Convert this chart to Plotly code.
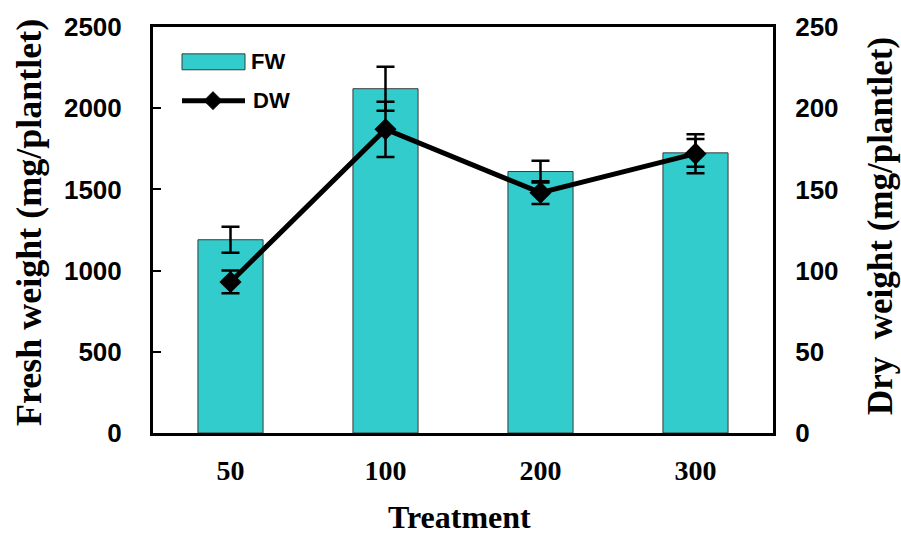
import plotly.graph_objects as go

# Treatment levels and measured weights (mg/plantlet)
treatments = ["50", "100", "200", "300"]
fresh_weight = [1190, 2120, 1610, 1725]
fresh_err = [80, 135, 67, 85]
dry_weight = [93, 187, 148, 172]
dry_err = [7, 17, 7, 12]

fw_ticks = [0, 500, 1000, 1500, 2000, 2500]
dw_ticks = [0, 50, 100, 150, 200, 250]

sans_bold = "Liberation Sans"
serif = "Liberation Serif"
bar_color = "#33CCCC"

fig = go.Figure()

fig.add_trace(go.Bar(
    x=treatments, y=fresh_weight, name="FW",
    marker=dict(color=bar_color, line=dict(color="#3a3a3a", width=1)),
    width=0.42,
    error_y=dict(type="data", array=fresh_err, color="black", thickness=2.5, width=9),
    showlegend=False,
))

fig.add_trace(go.Scatter(
    x=treatments, y=dry_weight, name="DW", yaxis="y2",
    mode="lines+markers",
    line=dict(color="black", width=5),
    marker=dict(symbol="diamond", size=17, color="black"),
    error_y=dict(type="data", array=dry_err, color="black", thickness=2.5, width=9),
    showlegend=False,
))

y_tick_font = dict(family=sans_bold, size=26, color="black", weight="bold")
x_tick_font = dict(family=serif, size=28, color="black", weight="bold")
legend_font = dict(family=sans_bold, size=22, color="black", weight="bold")

# Key drawn in pixel-based paper fractions of the plot area (620 x 408 px)
pw, ph = 620.0, 408.0
def px(x):
    return (x - 153) / pw
def py(y):
    return (433 - y) / ph

shapes = [
    dict(type="rect", xref="paper", yref="paper",
         x0=px(182), x1=px(245), y0=py(68), y1=py(52),
         fillcolor=bar_color, line=dict(color="#3a3a3a", width=1)),
    dict(type="line", xref="paper", yref="paper",
         x0=px(182), x1=px(245), y0=py(99), y1=py(99),
         line=dict(color="black", width=5)),
    dict(type="path", xref="paper", yref="paper",
         path=(f"M {px(213)},{py(90)} L {px(222)},{py(99)} "
               f"L {px(213)},{py(108)} L {px(204)},{py(99)} Z"),
         fillcolor="black", line=dict(color="black", width=1)),
]

annotations = [
    dict(text="FW", x=px(249), y=py(60), xref="paper", yref="paper",
         xanchor="left", yanchor="middle", showarrow=False, font=legend_font),
    dict(text="DW", x=px(251), y=py(99), xref="paper", yref="paper",
         xanchor="left", yanchor="middle", showarrow=False, font=legend_font),
    dict(text="<b>Treatment</b>", x=px(459), y=py(517), xref="paper", yref="paper",
         xanchor="center", yanchor="middle", showarrow=False,
         font=dict(family=serif, size=32, color="black")),
    dict(text="<b>Fresh weight (mg/plantlet)</b>", x=px(29), y=py(222),
         xref="paper", yref="paper", textangle=-90,
         xanchor="center", yanchor="middle", showarrow=False,
         font=dict(family=serif, size=36, color="black")),
    dict(text="<b>Dry&nbsp; weight (mg/plantlet)</b>", x=px(880), y=py(225),
         xref="paper", yref="paper", textangle=-90,
         xanchor="center", yanchor="middle", showarrow=False,
         font=dict(family=serif, size=35, color="black")),
]

fig.update_layout(
    width=901, height=534,
    margin=dict(l=153, r=128, t=25, b=101),
    paper_bgcolor="white", plot_bgcolor="white",
    showlegend=False,
    xaxis=dict(
        type="category", range=[-0.5, 3.5],
        showline=True, linecolor="black", linewidth=3, mirror=True,
        ticks="", tickfont=x_tick_font, ticklabelstandoff=10,
        showgrid=False, zeroline=False,
    ),
    yaxis=dict(
        range=[0, 2500], tickvals=fw_ticks,
        showline=True, linecolor="black", linewidth=3,
        ticks="inside", ticklen=8, tickwidth=2, tickcolor="black",
        tickfont=y_tick_font, ticklabelstandoff=23,
        showgrid=False, zeroline=False,
    ),
    yaxis2=dict(
        range=[0, 250], tickvals=dw_ticks, overlaying="y", side="right",
        showline=True, linecolor="black", linewidth=3,
        ticks="", tickfont=y_tick_font, ticklabelstandoff=14,
        showgrid=False, zeroline=False,
    ),
    shapes=shapes,
    annotations=annotations,
)

fig.write_html("out.html")
